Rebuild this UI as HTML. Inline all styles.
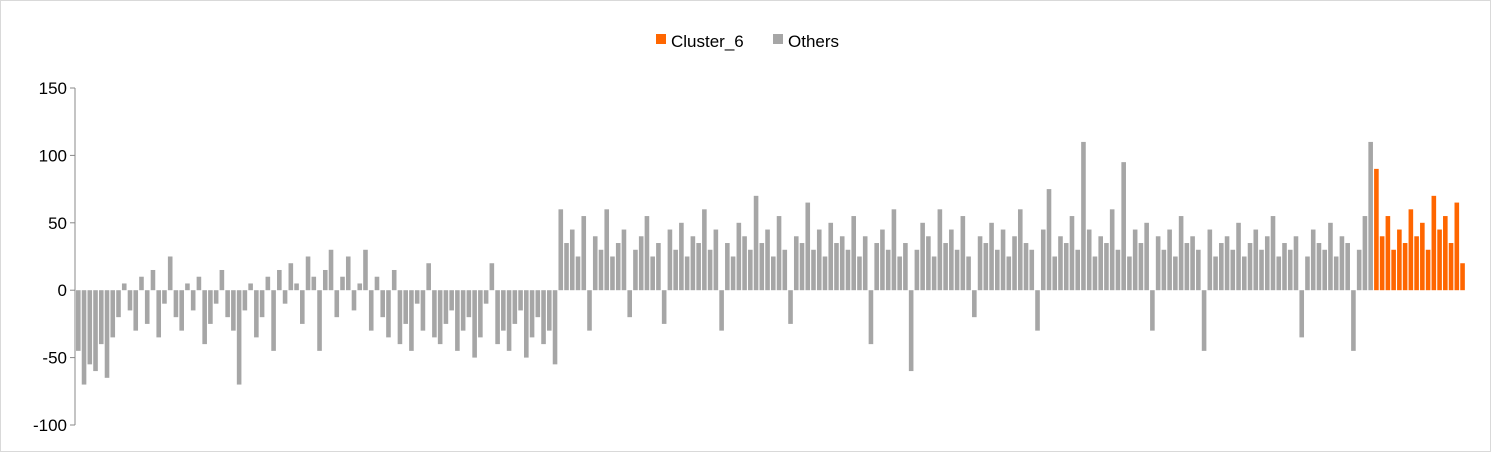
<!DOCTYPE html>
<html><head><meta charset="utf-8"><style>
body{margin:0;background:#fff;font-family:"Liberation Sans",sans-serif}
#wrap{position:relative;width:1493px;height:453px}
</style></head><body>
<div id="wrap">
<svg id="chart" width="1493" height="453">
<rect x="0.5" y="0.5" width="1490" height="451" fill="#fff" stroke="#d9d9d9"/>
<g>
<rect x="656" y="34" width="10" height="10" fill="#ff6600"/>
<text x="671" y="47" font-size="17" fill="#000">Cluster_6</text>
<rect x="773" y="34" width="10" height="10" fill="#a6a6a6"/>
<text x="788" y="47" font-size="17" fill="#000">Others</text>
</g>
<g id="axis"></g>
<g id="bars"></g>
</svg>
</div>
<script>
const yTicks=[150,100,50,0,-50,-100];
const othersValues=[-45,-70,-55,-60,-40,-65,-35,
-20,5,-15,-30,10,-25,15,-35,-10,25,-20,-30,5,-15,10,-40,-25,-10,15,-20,-30,-70,-15,5,-35,-20,10,-45,
15,-10,20,5,-25,25,10,-45,15,30,-20,10,25,-15,5,30,-30,10,
-20,-35,15,-40,-25,-45,-10,-30,20,-35,-40,-25,-15,-45,-30,-20,-50,-35,-10,20,-40,-30,-45,-25,-15,-50,-35,-20,-40,-30,-55,
60,35,45,25,55,-30,40,30,60,25,35,45,-20,30,40,55,25,35,-25,45,30,50,25,40,35,60,30,45,-30,35,25,50,40,30,70,35,45,25,55,30,-25,40,35,65,30,45,25,50,35,40,
30,55,25,40,-40,35,45,30,60,25,35,-60,30,50,40,25,60,35,45,30,55,25,-20,40,35,50,30,45,25,40,60,35,30,-30,45,75,25,40,35,55,30,110,45,25,40,35,60,30,95,25,
45,35,50,-30,40,30,45,25,55,35,40,30,-45,45,25,35,40,30,50,25,35,45,30,40,55,25,35,
30,40,-35,25,45,35,30,50,25,40,35,-45,30,55,110];
const clusterValues=[90,40,55,30,45,35,60,40,50,30,70,45,55,35,65,20];
const X0=75,X1=1465,Y150=88,Y_100=425;
function y(v){return Y150+(150-v)*(Y_100-Y150)/250;}
const NS="http://www.w3.org/2000/svg";
const axis=document.getElementById('axis');
let ln=document.createElementNS(NS,'line');
ln.setAttribute('x1',X0);ln.setAttribute('x2',X0);ln.setAttribute('y1',Y150);ln.setAttribute('y2',Y_100);ln.setAttribute('stroke','#888');


axis.appendChild(ln);
yTicks.forEach(t=>{
 const tk=document.createElementNS(NS,'line');
 tk.setAttribute('x1',X0-5);tk.setAttribute('x2',X0);tk.setAttribute('y1',y(t));tk.setAttribute('y2',y(t));tk.setAttribute('stroke','#888');
 
 
 axis.appendChild(tk);
 const tx=document.createElementNS(NS,'text');
 tx.setAttribute('x',X0-8);tx.setAttribute('y',y(t)+6);tx.setAttribute('text-anchor','end');tx.setAttribute('font-size','17');
 tx.textContent=t;
 
 
 axis.appendChild(tx);
});
const all=othersValues.map(v=>[v,'#a6a6a6','bar-others']).concat(clusterValues.map(v=>[v,'#ff6600','bar-cluster-6']));
const step=(X1-X0)/all.length;
const bars=document.getElementById('bars');
all.forEach((d,i)=>{
 const r=document.createElementNS(NS,'rect');
 const y0=y(0),yv=y(d[0]);
 r.setAttribute('x',X0+1+i*step);r.setAttribute('width',step*0.8);
 r.setAttribute('y',Math.min(y0,yv));r.setAttribute('height',Math.abs(yv-y0));
 r.setAttribute('fill',d[1]);
 
 
 bars.appendChild(r);
});
</script>
</body></html>
